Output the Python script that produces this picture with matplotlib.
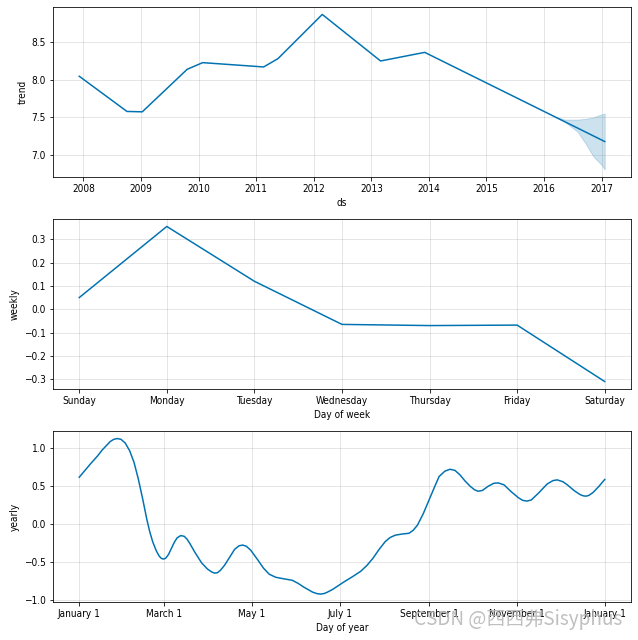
import matplotlib
matplotlib.use("Agg")
import matplotlib.pyplot as plt
import matplotlib.dates as mdates
import pandas as pd
import numpy as np

plt.rcParams['font.family'] = ['DejaVu Sans']
plt.rcParams['font.stretch'] = 'condensed'
plt.rcParams['font.size'] = 10

# trend component
trend_ds = ['2007-12-05', '2008-10-03', '2009-01-08', '2009-10-20', '2010-01-26',
            '2011-02-17', '2011-05-19', '2012-02-24', '2013-02-28', '2013-12-05',
            '2016-03-10', '2017-01-20']
trend_val = [8.044, 7.578, 7.573, 8.136, 8.224, 8.167, 8.277, 8.862, 8.246, 8.36,
             7.507, 7.18]
band_ds = ['2016-03-10', '2016-05-12', '2016-08-01', '2016-09-20', '2016-11-10',
           '2017-01-01', '2017-01-20']
band_upper = [7.507, 7.47, 7.47, 7.48, 7.50, 7.54, 7.55]
band_lower = [7.507, 7.44, 7.31, 7.155, 6.98, 6.87, 6.81]

# weekly component
days = ['Sunday', 'Monday', 'Tuesday', 'Wednesday', 'Thursday', 'Friday', 'Saturday']
weekly = [0.05, 0.355, 0.12, -0.065, -0.07, -0.068, -0.31]

# yearly component (day of year -> value)
doy = [0, 4, 8, 12.7, 16, 19, 21.5, 24, 26.5, 29, 32, 35, 38, 41, 44, 47, 49, 51,
       53.5, 55.5, 57, 58.5, 60, 62, 64, 66, 68, 70.5, 73, 75, 77, 80, 85, 89, 92,
       94, 96, 98, 101, 105, 108, 111, 113.5, 116, 119, 124, 128,
       132, 136.5, 142, 148, 152, 156, 162, 165, 167.5, 170, 172, 176, 184, 190,
       195.6, 200, 204, 208, 212.5, 216, 219.5, 224, 229, 232, 235, 239, 243, 247,
       250, 254, 257.5, 261, 264.5, 268, 271.6, 274.5, 277, 280, 284, 288, 291,
       295, 300, 305, 308, 311, 314, 319, 325, 329, 332, 336, 339, 344, 348, 350,
       352, 354, 357, 361, 365]
yearly = [0.62, 0.71, 0.80, 0.90, 0.98, 1.04, 1.09, 1.12, 1.13, 1.12, 1.07, 0.97,
          0.82, 0.60, 0.34, 0.06, -0.10, -0.23, -0.35, -0.42, -0.45, -0.46, -0.45,
          -0.40, -0.32, -0.24, -0.18, -0.15, -0.16, -0.20, -0.26, -0.36, -0.51,
          -0.59, -0.63, -0.645, -0.64, -0.61, -0.54, -0.42, -0.33, -0.285, -0.275,
          -0.29, -0.34, -0.47, -0.58, -0.66, -0.70, -0.72, -0.74, -0.78, -0.83,
          -0.895, -0.915, -0.922, -0.915, -0.90, -0.86, -0.76, -0.69, -0.62, -0.54,
          -0.45, -0.34, -0.23, -0.175, -0.145, -0.13, -0.12, -0.08, -0.01, 0.14,
          0.32, 0.50, 0.63, 0.70, 0.725, 0.71, 0.65, 0.57, 0.50, 0.455, 0.435,
          0.445, 0.50, 0.54, 0.545, 0.52, 0.43, 0.35, 0.315, 0.305, 0.32, 0.41,
          0.53, 0.575, 0.585, 0.56, 0.52, 0.44, 0.39, 0.375, 0.37, 0.38, 0.42,
          0.50, 0.59]
month_ticks = [0, 59, 120, 181, 243, 304, 365]
month_labels = ['January 1', 'March 1', 'May 1', 'July 1', 'September 1',
                'November 1', 'January 1']

line_c = '#0072B2'

fig = plt.figure(figsize=(638 / 72, 640 / 72), dpi=72)
ax1 = fig.add_axes([0.083, 0.7234, 0.906, 0.2656])
ax2 = fig.add_axes([0.083, 0.3922, 0.906, 0.2656])
ax3 = fig.add_axes([0.083, 0.0594, 0.906, 0.2672])

t = pd.to_datetime(trend_ds)
b = pd.to_datetime(band_ds)
ax1.plot(t, trend_val, ls='-', c=line_c)
ax1.fill_between(b, band_lower, band_upper, color=line_c, alpha=0.2)
ax1.xaxis.set_major_locator(mdates.YearLocator())
ax1.xaxis.set_major_formatter(mdates.DateFormatter('%Y'))
ax1.set_yticks([7.0, 7.5, 8.0, 8.5])
ax1.set_ylim(6.71, 8.96)
ax1.set_xlabel('ds')
ax1.set_ylabel('trend')

ax2.plot(range(len(days)), weekly, ls='-', c=line_c)
ax2.set_xticks(range(len(days)))
ax2.set_xticklabels(days)
ax2.set_ylim(-0.342, 0.387)
ax2.set_xlabel('Day of week')
ax2.set_ylabel('weekly')

ax3.plot(doy, yearly, ls='-', c=line_c)
ax3.set_xticks(month_ticks)
ax3.set_xticklabels(month_labels)
ax3.set_ylim(-1.026, 1.23)
ax3.set_xlabel('Day of year')
ax3.set_ylabel('yearly')

for ax in (ax1, ax2, ax3):
    ax.grid(True, which='major', c='gray', ls='-', lw=1, alpha=0.2)

# CSDN watermark sitting over the bottom-right tick labels
fig.text(0.976, 0.016, 'CSDN @西西弗Sisyphus', ha='right', va='bottom',
         fontsize=19, color='#b8b8b8', alpha=0.9,
         family=['Noto Sans CJK SC', 'DejaVu Sans'], stretch='normal')

fig.savefig('out.png', dpi=72)
